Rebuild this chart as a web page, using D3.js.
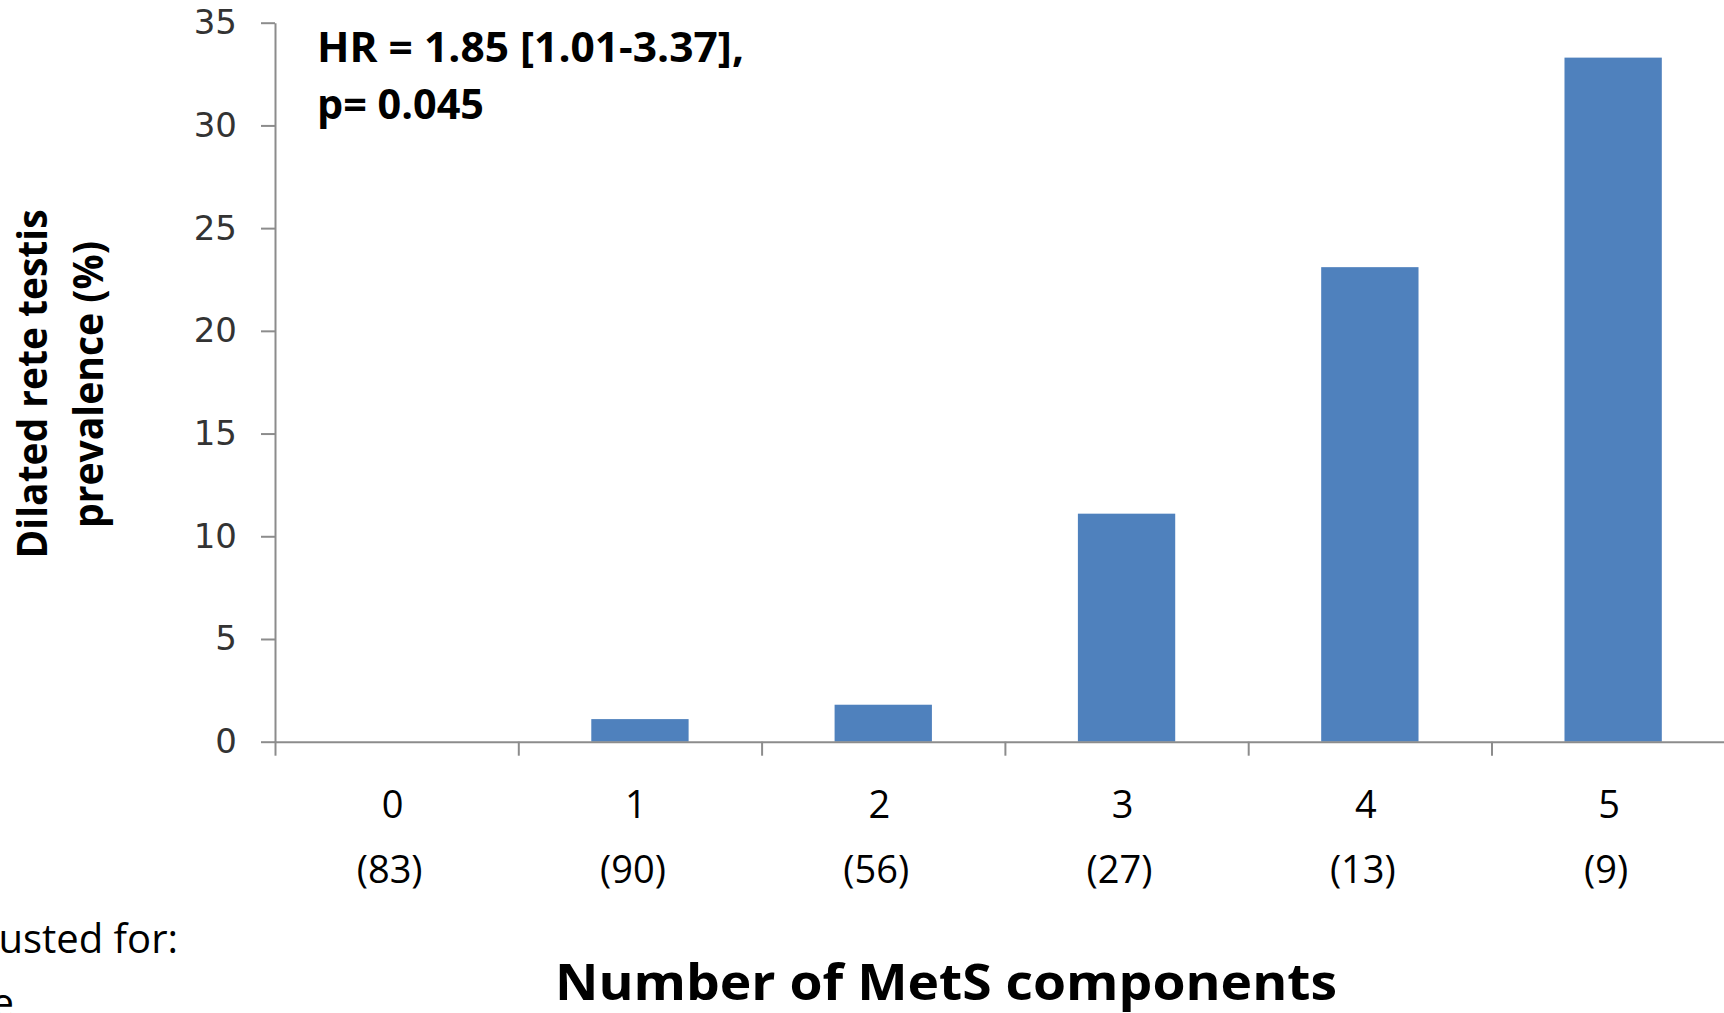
<!DOCTYPE html>
<html>
<head>
<meta charset="utf-8">
<script src="https://cdn.jsdelivr.net/npm/d3@7"></script>
<style>
  html, body { margin: 0; padding: 0; background: #ffffff; }
  svg { display: block; }
</style>
</head>
<body>
<svg id="chart" width="1724" height="1013"></svg>
<script>
// Number of metabolic syndrome components and dilated rete testis prevalence
const categories = ["0", "1", "2", "3", "4", "5"];
const subjects = ["(83)", "(90)", "(56)", "(27)", "(13)", "(9)"];
const prevalence = [0, 1.1, 1.8, 11.1, 23.1, 33.3];
const yTicks = [0, 5, 10, 15, 20, 25, 30, 35];
const annotation = ["HR = 1.85 [1.01-3.37],", "p= 0.045"];
const yTitle = ["Dilated rete testis", "prevalence (%)"];
const xTitle = "Number of MetS components";
const footnote = ["Adjusted for:", "Age"];

const svg = d3.select("#chart");
const plotLeft = 275, plotTop = 22.7, plotBottom = 741.7;
const step = 243.3;

const x = d3.scaleBand().domain(categories).range([plotLeft, plotLeft + step * categories.length]).padding(0);
const xEdge = d3.scaleLinear().domain([0, categories.length]).range(x.range());
const y = d3.scaleLinear().domain([0, 35]).range([plotBottom, plotTop]);

const axisColor = "#8c8c8c";
const regular = "'Open Sans', 'Noto Sans', sans-serif";

// bars, 40% of each category slot, centred
svg.append("g").selectAll("rect")
  .data(categories.map((c, i) => ({ c, v: prevalence[i] })))
  .join("rect")
  .attr("x", d => x(d.c) + x.bandwidth() * 0.3)
  .attr("width", x.bandwidth() * 0.4)
  .attr("y", d => y(d.v))
  .attr("height", d => y(0) - y(d.v))
  .attr("fill", "#4f81bd");

// y axis
const yAxis = svg.append("g")
  .attr("transform", `translate(${plotLeft},0)`)
  .call(d3.axisLeft(y).tickValues(yTicks).tickSize(14).tickSizeOuter(0).tickPadding(24));
yAxis.selectAll("text")
  .attr("font-family", "'DejaVu Sans', sans-serif")
  .attr("font-size", 34)
  .attr("fill", "#333333");

// x axis, ticks on the category boundaries
const xAxis = svg.append("g")
  .attr("transform", `translate(0,${plotBottom})`)
  .call(d3.axisBottom(xEdge).ticks(categories.length).tickFormat("").tickSize(14).tickSizeOuter(0));

[yAxis, xAxis].forEach(g => {
  g.select(".domain").attr("stroke", axisColor).attr("stroke-width", 2);
  g.selectAll(".tick line").attr("stroke", axisColor).attr("stroke-width", 2);
});

// category labels and group sizes
const labels = svg.append("g").attr("font-family", regular).attr("font-size", 38)
  .attr("fill", "#000").attr("text-anchor", "middle");
labels.selectAll("text.cat")
  .data(categories)
  .join("text").attr("class", "cat")
  .attr("x", d => x(d) + x.bandwidth() / 2 - 4)
  .attr("y", 818)
  .text(d => d);
labels.selectAll("text.n")
  .data(subjects)
  .join("text").attr("class", "n")
  .attr("x", (d, i) => x(categories[i]) + x.bandwidth() / 2 - 7)
  .attr("y", 883)
  .text(d => d);

// hazard ratio annotation
const ann = svg.append("g").attr("font-family", regular).attr("font-weight", 700)
  .attr("font-size", 42).attr("fill", "#000");
ann.append("text").attr("x", 317).attr("y", 61.7)
  .attr("textLength", 427).attr("lengthAdjust", "spacingAndGlyphs").text(annotation[0]);
ann.append("text").attr("x", 317).attr("y", 118.5)
  .attr("textLength", 167).attr("lengthAdjust", "spacingAndGlyphs").text(annotation[1]);

// y axis title, two rotated lines
const yt = svg.append("g").attr("font-family", regular).attr("font-weight", 700)
  .attr("font-size", 42).attr("fill", "#000").attr("text-anchor", "middle");
yt.append("text").attr("transform", "translate(46.5,384) rotate(-90)")
  .attr("textLength", 349).attr("lengthAdjust", "spacingAndGlyphs").text(yTitle[0]);
yt.append("text").attr("transform", "translate(103,384.5) rotate(-90)")
  .attr("textLength", 287).attr("lengthAdjust", "spacingAndGlyphs").text(yTitle[1]);

// x axis title
svg.append("text").attr("x", 946).attr("y", 1000)
  .attr("font-family", regular).attr("font-weight", 700).attr("font-size", 50)
  .attr("text-anchor", "middle").attr("fill", "#000")
  .attr("textLength", 782).attr("lengthAdjust", "spacingAndGlyphs").text(xTitle);

// covariate note at the lower left
const fn = svg.append("g").attr("font-family", regular).attr("font-size", 40)
  .attr("fill", "#000").attr("text-anchor", "end");
fn.append("text").attr("x", 178).attr("y", 953).text(footnote[0]);
fn.append("text").attr("x", 14).attr("y", 1017).text(footnote[1]);
</script>
</body>
</html>
